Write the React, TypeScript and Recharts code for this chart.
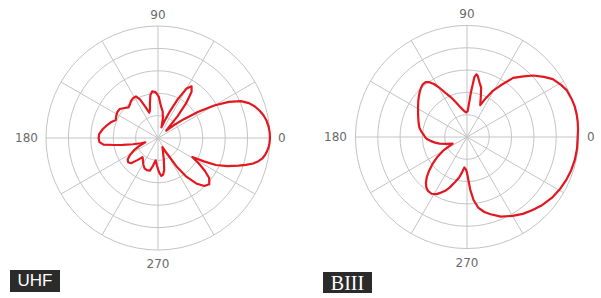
import React from 'react';
import { RadarChart, Radar, PolarGrid, PolarAngleAxis, PolarRadiusAxis } from 'recharts';

// azimuth in degrees (0 = right, counter-clockwise), relative field in ring units (0..5)
const uhfAngle = [
  0, 3, 6, 9, 12, 15, 18, 21, 24, 27, 30, 33, 36, 39, 42, 45, 48, 51, 54, 57, 60, 63, 66, 69, 72, 76, 80, 85, 89,
  93, 97, 100, 103, 106, 109, 112, 115, 118, 122, 126, 130, 134, 138, 143, 148, 153, 157, 161, 166, 171, 176, 180,
  184, 187, 189, 191, 194, 197, 199, 203, 207, 211, 215, 219, 223, 227, 231, 236, 241, 246, 251, 256, 260, 264,
  268, 272, 275, 278, 281, 285, 290, 296, 300, 303, 306, 310, 314, 318, 322, 325, 328, 331, 333, 335, 338, 341,
  343, 345, 347, 349, 351, 353, 355, 357,
];
const uhfGain = [
  5.0, 4.99, 4.96, 4.91, 4.82, 4.7, 4.55, 4.35, 4.05, 3.55, 2.9, 2.15, 1.45, 0.9, 0.5, 0.7, 1.3, 2.0, 2.55, 2.75, 2.55, 1.95, 1.3, 0.8, 0.5, 0.9, 1.2, 1.45, 1.85,
  2.05, 2.1, 1.95, 1.6, 1.3, 1.2, 1.5, 1.9, 2.1, 2.1, 2.05, 1.95, 1.9, 2.0, 2.15, 2.15, 2.1, 2.05, 2.2, 2.35, 2.5, 2.63, 2.65,
  2.62, 2.45, 2.0, 1.6, 1.15, 0.8, 0.6, 0.9, 1.2, 1.45, 1.65, 1.72, 1.65, 1.35, 1.1, 1.2, 1.35, 1.48, 1.52, 1.5, 1.25, 1.0,
  1.25, 1.55, 1.7, 1.65, 1.45, 1.0, 0.65, 0.45, 0.8, 1.5, 2.1, 2.65, 2.98, 3.08, 2.9, 2.55, 2.15, 1.75, 2.3, 2.85, 3.35, 3.8,
  4.1, 4.4, 4.6, 4.75, 4.84, 4.9, 4.95, 4.98,
];

const biiiAngle = [
  0, 4, 8, 12, 16, 20, 25, 29, 34, 38, 43, 47, 52, 57, 61, 64, 67.5, 71, 74, 77, 80, 81.5, 83, 85, 88.5, 92, 96,
  100, 104, 108, 112, 116, 119, 122, 124.5, 127, 130, 133, 136, 140, 144, 149, 155, 160, 165, 169, 173, 177, 180,
  183, 186, 190, 193.5, 199, 205, 210, 214, 218, 222, 225, 228, 231, 234, 238, 242, 245, 248, 251, 255, 259, 262,
  265, 268, 270, 273.5, 276, 279, 283, 287, 293, 300, 306, 312, 318, 325, 331, 337, 342, 348, 354,
];
const biiiGain = [
  4.96, 4.99, 5.01, 5.02, 5.02, 4.99, 4.94, 4.82, 4.64, 4.38, 4.04, 3.72, 3.36, 2.75, 2.35, 1.95, 1.55, 1.9, 2.3, 2.5, 2.78, 2.84, 2.7, 2.0, 1.16, 1.1, 1.17,
  1.28, 1.43, 1.65, 1.92, 2.2, 2.5, 2.8, 2.98, 3.08, 3.08, 3.02, 2.94, 2.82, 2.7, 2.56, 2.42, 2.32, 2.24, 2.17, 2.07, 1.95, 1.88,
  1.8, 1.65, 1.45, 1.27, 0.95, 0.71, 1.25, 1.6, 1.96, 2.3, 2.55, 2.75, 2.9, 2.98, 3.0, 2.9, 2.75, 2.6, 2.4, 2.1, 1.85, 1.6,
  1.37, 1.45, 1.6, 2.36, 2.85, 3.2, 3.45, 3.62, 3.88, 4.08, 4.26, 4.4, 4.55, 4.69, 4.78, 4.85, 4.9, 4.94, 4.96,
];

const angleTicks = [0, 90, 180, 270];
const ringTicks = [0, 1, 2, 3, 4, 5];
const spokes = [0, 30, 60, 90, 120, 150, 180, 210, 240, 270, 300, 330];

const RED = '#e3171f';
const GRID = '#c4c4c4';

const AngleTick = (props: any) => {
  const { x, y, payload } = props;
  const v = payload.value;
  let anchor: 'start' | 'middle' | 'end' = 'middle';
  let dy = 4;
  if (v === 0) anchor = 'start';
  if (v === 180) anchor = 'end';
  if (v === 90) dy = 1;
  if (v === 270) dy = 10;
  return (
    <text x={x} y={y + dy} textAnchor={anchor} fill="#6a6a6a" fontSize={12} fontFamily="DejaVu Sans, sans-serif">
      {v}
    </text>
  );
};

function Pattern({ angles, gains, cx, cy }: { angles: number[]; gains: number[]; cx: number; cy: number }) {
  const data = angles.map((a, i) => ({ angle: a, gain: gains[i] }));
  return (
    <RadarChart
      width={300}
      height={298}
      data={data}
      cx={cx}
      cy={cy}
      outerRadius={112}
      startAngle={0}
      endAngle={360}
      margin={{ top: 0, right: 0, bottom: 0, left: 0 }}
    >
      <PolarGrid gridType="circle" stroke={GRID} strokeOpacity={1} polarAngles={spokes} />
      <PolarAngleAxis
        dataKey="angle"
        type="number"
        domain={[0, 360]}
        ticks={angleTicks}
        tick={AngleTick}
        tickLine={false}
        axisLine={false}
      />
      <PolarRadiusAxis domain={[0, 5]} ticks={ringTicks} tick={false} axisLine={false} />
      <Radar
        dataKey="gain"
        stroke={RED}
        strokeWidth={2.2}
        strokeLinejoin="round"
        fill="none"
        fillOpacity={0}
        dot={false}
        isAnimationActive={false}
      />
    </RadarChart>
  );
}

export default function App() {
  return (
    <div style={{ position: 'absolute', left: 0, top: 0, width: 601, height: 298, background: '#fff' }}>
      <div style={{ position: 'absolute', left: 0, top: 0 }}>
        <Pattern angles={uhfAngle} gains={uhfGain} cx={158} cy={138} />
      </div>
      <div style={{ position: 'absolute', left: 300, top: 0 }}>
        <Pattern angles={biiiAngle} gains={biiiGain} cx={167} cy={137} />
      </div>
      <div
        style={{
          position: 'absolute', left: 10, top: 270, width: 50, height: 22, background: '#2b2b2b', color: '#fff',
          fontFamily: 'Liberation Sans, Arial, sans-serif', fontSize: 17, lineHeight: '22px', textAlign: 'center',
        }}
      >
        UHF
      </div>
      <div
        style={{
          position: 'absolute', left: 323, top: 272, width: 49, height: 21, background: '#2b2b2b', color: '#fff',
          fontFamily: 'Liberation Serif, Times New Roman, serif', fontSize: 20, lineHeight: '22px', textAlign: 'center',
        }}
      >
        BIII
      </div>
    </div>
  );
}
